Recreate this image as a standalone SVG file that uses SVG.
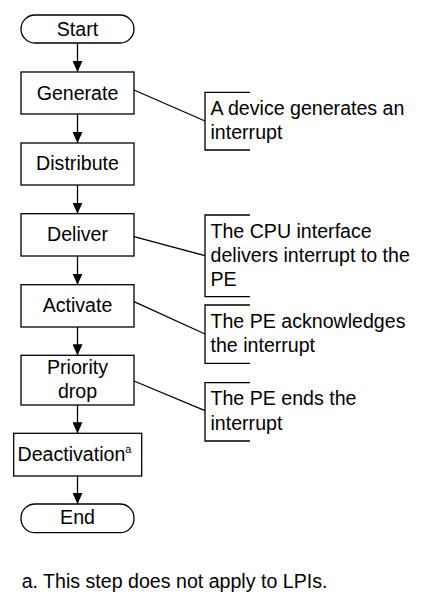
<svg xmlns="http://www.w3.org/2000/svg" width="431" height="598" viewBox="0 0 431 598">
<style>
.b{fill:#fff;stroke:#000;stroke-width:1.3}
.t{font-family:"Liberation Sans",Arial,sans-serif;font-size:19.6px;fill:#000}
.c{text-anchor:middle}
.l{fill:none;stroke:#000;stroke-width:1.3}
</style>
<defs>
<marker id="ah" markerUnits="userSpaceOnUse" markerWidth="11" markerHeight="10" refX="11" refY="5" orient="auto">
<path d="M0,0 L11,5 L0,10 z" fill="#000"/>
</marker>
</defs>
<rect width="431" height="598" fill="#fff"/>
<g id="connectors">
<line class="l" x1="77.5" y1="43" x2="77.5" y2="72" marker-end="url(#ah)"/>
<line class="l" x1="77.5" y1="114" x2="77.5" y2="143" marker-end="url(#ah)"/>
<line class="l" x1="77.5" y1="185" x2="77.5" y2="213.7" marker-end="url(#ah)"/>
<line class="l" x1="77.5" y1="256" x2="77.5" y2="284.7" marker-end="url(#ah)"/>
<line class="l" x1="77.5" y1="327" x2="77.5" y2="355.3" marker-end="url(#ah)"/>
<line class="l" x1="77.5" y1="405" x2="77.5" y2="433.3" marker-end="url(#ah)"/>
<line class="l" x1="77.5" y1="476" x2="77.5" y2="504" marker-end="url(#ah)"/>
<line class="l" x1="134" y1="90" x2="205" y2="121"/>
<line class="l" x1="134" y1="236.7" x2="205" y2="255.7"/>
<line class="l" x1="134" y1="301.7" x2="205" y2="334"/>
<line class="l" x1="134" y1="381" x2="205" y2="410.7"/>
</g>
<g id="start"><rect class="b" x="21" y="15" width="113" height="28" rx="14"/><text class="t c" x="77.5" y="35.7">Start</text></g>
<g id="generate"><rect class="b" x="21" y="72" width="113" height="42"/><text class="t c" x="77.5" y="100">Generate</text></g>
<g id="distribute"><rect class="b" x="21" y="143" width="113" height="42"/><text class="t c" x="77.5" y="170">Distribute</text></g>
<g id="deliver"><rect class="b" x="21" y="213.7" width="113" height="42.3"/><text class="t c" x="77.5" y="241">Deliver</text></g>
<g id="activate"><rect class="b" x="21" y="284.7" width="113" height="42.3"/><text class="t c" x="77.5" y="311.7">Activate</text></g>
<g id="priority"><rect class="b" x="21" y="355.3" width="113" height="49.7"/><text class="t c" x="77.5" y="374.3">Priority</text><text class="t c" x="77.5" y="398.3">drop</text></g>
<g id="deactivation"><rect class="b" x="13.7" y="433.3" width="128" height="42.7"/><text class="t c" x="74.5" y="460.7">Deactivation<tspan font-size="11" dy="-8">a</tspan></text></g>
<g id="end"><rect class="b" x="21" y="504" width="113" height="28.7" rx="14"/><text class="t c" x="77.5" y="524">End</text></g>
<g id="note1"><path class="l" d="M250,92.3 H205 V150 H250"/><text class="t" x="210.5" y="115">A device generates an</text><text class="t" x="210.5" y="139">interrupt</text></g>
<g id="note2"><path class="l" d="M250,215 H205 V296.7 H250"/><text class="t" x="210.5" y="238.3">The CPU interface</text><text class="t" x="210.5" y="262.3">delivers interrupt to the</text><text class="t" x="210.5" y="285.7">PE</text></g>
<g id="note3"><path class="l" d="M250,305 H205 V363.3 H250"/><text class="t" x="210.5" y="328.3">The PE acknowledges</text><text class="t" x="210.5" y="351.7">the interrupt</text></g>
<g id="note4"><path class="l" d="M250,382.7 H205 V441 H250"/><text class="t" x="210.5" y="405">The PE ends the</text><text class="t" x="210.5" y="429.5">interrupt</text></g>
<g id="footnote"><text class="t" x="21.7" y="588.3">a. This step does not apply to LPIs.</text></g>
</svg>
